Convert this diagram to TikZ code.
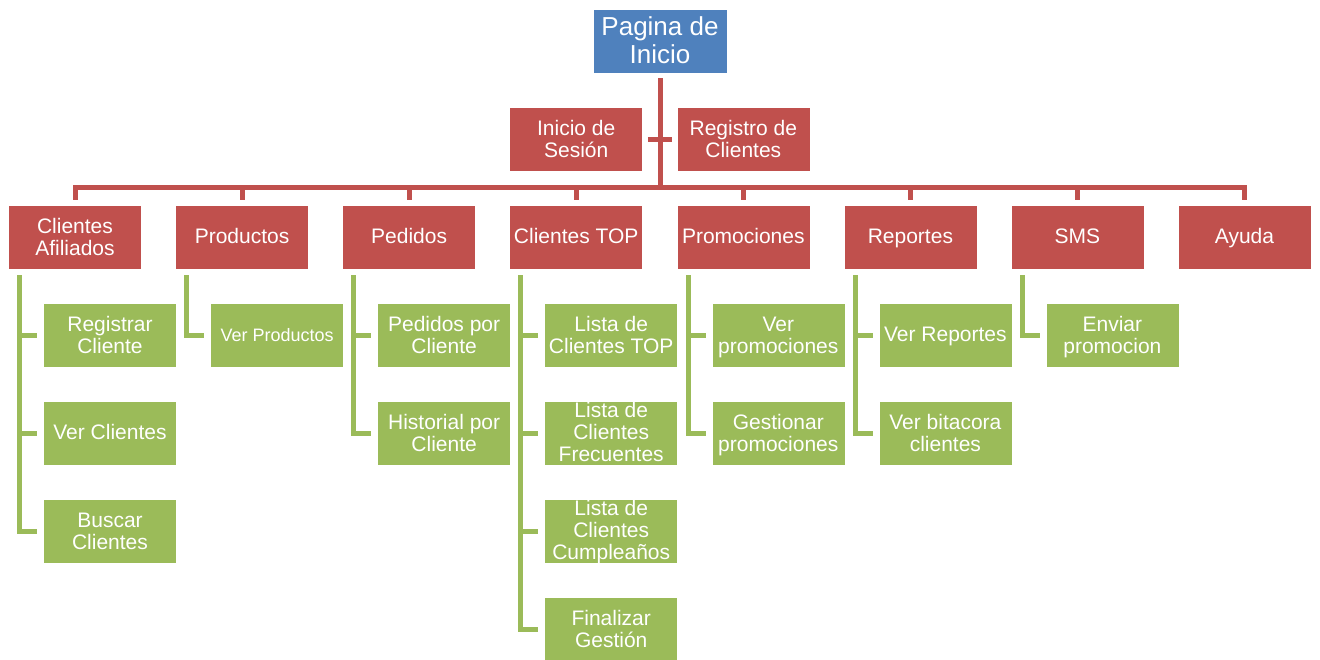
\documentclass[tikz,border=0pt]{standalone}
\usepackage{fontspec}
\setmainfont{Liberation Sans}
\definecolor{topblue}{HTML}{4F81BD}
\definecolor{lvred}{HTML}{C0504D}
\definecolor{lvgreen}{HTML}{9BBB59}
\begin{document}
\begin{tikzpicture}[x=1pt,y=-1pt,
  box/.style={minimum width=133pt,minimum height=64pt,inner sep=0pt,align=center,
    text=white,draw=white,line width=0.5pt,text height=16pt,text depth=4pt},
  twolines/.style={text height=39pt,text depth=3pt},
  threelines/.style={text height=60pt,text depth=4pt},
  rootbox/.style={box,fill=topblue,minimum width=134pt,font=\fontsize{26}{28}\selectfont,
    text height=48pt,text depth=4pt},
  redbox/.style={box,fill=lvred,font=\fontsize{21}{22}\selectfont},
  greenbox/.style={box,fill=lvgreen,font=\fontsize{21}{22}\selectfont},
  redline/.style={draw=lvred,line width=5pt,line join=miter},
  greenline/.style={draw=lvgreen,line width=5pt,line join=miter},
]
\useasboundingbox (0,0) rectangle (1320,659);

% root and the two login pages
\node[rootbox] (root) at (660,41) {Pagina de\\Inicio};
\node[redbox,twolines] (ses) at (576.2,139) {Inicio de\\Sesión};
\node[redbox,twolines] (reg) at (743.3,139) {Registro de\\Clientes};

% main menu
\node[redbox,twolines] (c1) at (75,237) {Clientes\\Afiliados};
\node[redbox] (c2) at (242.07,237) {Productos};
\node[redbox] (c3) at (409.14,237) {Pedidos};
\node[redbox] (c4) at (576.2,237)  {Clientes TOP};
\node[redbox] (c5) at (743.3,237)  {Promociones};
\node[redbox] (c6) at (910.4,237)  {Reportes};
\node[redbox] (c7) at (1077.4,237) {SMS};
\node[redbox] (c8) at (1244.5,237) {Ayuda};

% sub pages
\node[greenbox,twolines] (a1) at (110,335) {Registrar\\Cliente};
\node[greenbox] (a2) at (110,433) {Ver Clientes};
\node[greenbox,twolines] (a3) at (110,531) {Buscar\\Clientes};
\node[greenbox,font=\fontsize{18}{20}\selectfont] (b1) at (277.07,335) {Ver Productos};
\node[greenbox,twolines] (d1) at (444.14,335) {Pedidos por\\Cliente};
\node[greenbox,twolines] (d2) at (444.14,433) {Historial por\\Cliente};
\node[greenbox,twolines] (t1) at (611.2,335) {Lista de\\Clientes TOP};
\node[greenbox,threelines] (t2) at (611.2,433) {Lista de\\Clientes\\Frecuentes};
\node[greenbox,threelines] (t3) at (611.2,531) {Lista de\\Clientes\\Cumpleaños};
\node[greenbox,twolines] (t4) at (611.2,629) {Finalizar\\Gestión};
\node[greenbox,twolines] (p1) at (778.3,335) {Ver\\promociones};
\node[greenbox,twolines] (p2) at (778.3,433) {Gestionar\\promociones};
\node[greenbox] (r1) at (945.4,335) {Ver Reportes};
\node[greenbox,twolines] (r2) at (945.4,433) {Ver bitacora\\clientes};
\node[greenbox,twolines] (s1) at (1112.4,335) {Enviar\\promocion};

% red connectors
\coordinate (bus) at (660,187);
\draw[redline] ([yshift=-5pt]root.south) -- (root.south |- bus);
\draw[redline] ([xshift=5pt]ses.east) -- ([xshift=-5pt]reg.west);
\draw[redline] ([yshift=5pt]c1.north) -- (c1.north |- bus) -- (c8.north |- bus) -- ([yshift=5pt]c8.north);
\foreach \c in {c2,c3,c4,c5,c6,c7}
  \draw[redline] ([yshift=5pt]\c.north) -- (\c.north |- bus);

% green connectors
\foreach \p/\last/\others in {c1/a3/{a1,a2}, c2/b1/{}, c3/d2/{d1}, c4/t4/{t1,t2,t3},
                               c5/p2/{p1}, c6/r2/{r1}, c7/s1/{}} {
  \coordinate (v) at ([xshift=11.5pt,yshift=-6pt]\p.south west);
  \draw[greenline] (v) |- ([xshift=-6pt]\last.west);
  \foreach \k in \others
    \draw[greenline] (v |- \k.west) -- ([xshift=-6pt]\k.west);
}
\end{tikzpicture}
\end{document}
